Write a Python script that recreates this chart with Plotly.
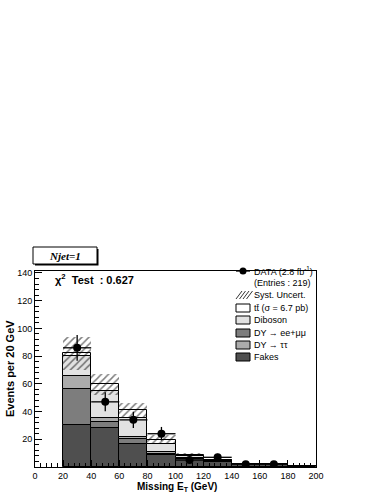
import numpy as np
import plotly.graph_objects as go

# ---------------- data ----------------
bin_centers = [30, 50, 70, 90, 110, 130, 150, 170, 190]
fakes   = [30.0, 28.0, 16.5, 8.5, 5.5, 3.5, 2.0, 2.0, 0.8]
dy_ee   = [26.0, 4.3, 3.7, 1.2, 0.8, 0.4, 0.1, 0.1, 0.05]
dy_tt   = [9.5, 3.4, 1.5, 1.1, 0.5, 0.3, 0.1, 0.1, 0.05]
diboson = [14.5, 19.0, 13.7, 6.0, 1.2, 0.5, 0.2, 0.2, 0.1]
ttbar   = [2.0, 5.0, 5.6, 3.0, 1.0, 0.3, 0.1, 0.1, 0.0]
syst    = [12.0, 7.5, 5.5, 3.5, 1.4, 0.8, 0.4, 0.4, 0.2]

data_x = [30, 50, 70, 90, 110, 130, 150, 170]
data_y = [86, 47, 34, 24, 5, 7, 2, 2]

x_ticks = [0, 20, 40, 60, 80, 100, 120, 140, 160, 180, 200]
y_ticks = [20, 40, 60, 80, 100, 120, 140]

# ---------------- layout helpers ----------------
W, H = 380, 492
PX0, PX1, PYT, PYB = 35, 316, 271, 467


def px(x):
    return (x - PX0) / (PX1 - PX0)


def py(y):
    return (PYB - y) / (PYB - PYT)


BW = 20
components = [
    ("Fakes", fakes, "#4f4f4f"),
    ("DY -> ee+mumu", dy_ee, "#7d7d7d"),
    ("DY -> tautau", dy_tt, "#ababab"),
    ("Diboson", diboson, "#e2e2e2"),
    ("ttbar", ttbar, "#ffffff"),
]

fig = go.Figure()
base = np.zeros(len(bin_centers))
for name, vals, col in components:
    v = np.array(vals, dtype=float)
    fig.add_trace(go.Bar(
        x=bin_centers, y=v, base=base.copy(), width=BW, name=name,
        marker=dict(color=col, line=dict(color="black", width=1)),
        showlegend=False, hoverinfo="skip"))
    base = base + v

total = base
err = np.array(syst)
fig.add_trace(go.Bar(
    x=bin_centers, y=2 * err, base=total - err, width=BW,
    marker=dict(color="rgba(0,0,0,0)", line=dict(width=0),
                pattern=dict(shape="/", fgcolor="black", bgcolor="rgba(0,0,0,0)",
                             size=5, solidity=0.3)),
    showlegend=False, hoverinfo="skip"))

fig.add_trace(go.Scatter(
    x=data_x, y=data_y, mode="markers",
    marker=dict(color="black", size=8, symbol="circle"),
    error_y=dict(type="data", array=list(np.sqrt(data_y)), color="black",
                 thickness=1.3, width=0),
    error_x=dict(type="constant", value=10, color="black", thickness=1.3, width=0),
    showlegend=False, hoverinfo="skip"))

fig.update_layout(
    width=W, height=H,
    margin=dict(l=PX0, r=W - PX1, t=PYT, b=H - PYB),
    paper_bgcolor="white", plot_bgcolor="white",
    barmode="overlay", bargap=0,
    font=dict(family="Liberation Sans", color="black"),
    showlegend=False,
)
fig.update_xaxes(
    range=[0, 200], tickvals=x_ticks, ticktext=[str(t) for t in x_ticks],
    ticks="inside", ticklen=7, tickwidth=1, tickcolor="black",
    minor=dict(ticks="inside", ticklen=4, dtick=4, tick0=0, tickcolor="black"),
    showline=True, linecolor="black", linewidth=1, mirror=True,
    showgrid=False, zeroline=False,
    tickfont=dict(family="Liberation Sans", size=9, color="black"),
)
fig.update_yaxes(
    range=[0, 141.4], tickvals=y_ticks, ticktext=[str(t) for t in y_ticks],
    ticks="inside", ticklen=7, tickwidth=1, tickcolor="black",
    minor=dict(ticks="inside", ticklen=4, dtick=4, tick0=0, tickcolor="black"),
    showline=True, linecolor="black", linewidth=1, mirror=True,
    showgrid=False, zeroline=False,
    tickfont=dict(family="Liberation Sans", size=9, color="black"),
)

ann = []
shapes = []
bold = "Liberation Sans"

# axis titles
ann.append(dict(x=px(177), y=py(479), xref="paper", yref="paper",
                text="<b>Missing E<sub>T</sub> (GeV)</b>", showarrow=False,
                font=dict(family=bold, size=10, color="black"),
                xanchor="center", yanchor="top"))
ann.append(dict(x=px(10), y=py(369), xref="paper", yref="paper",
                text="<b>Events per 20 GeV</b>", showarrow=False, textangle=-90,
                font=dict(family=bold, size=11, color="black"),
                xanchor="center", yanchor="middle"))

# chi2 text
ann.append(dict(x=px(53), y=py(279), xref="paper", yref="paper",
                text="<b>χ<sup>2</sup>  Test  : 0.627</b>", showarrow=False,
                font=dict(family=bold, size=11, color="black"),
                xanchor="left", yanchor="middle"))

# Njet box
shapes.append(dict(type="rect", xref="paper", yref="paper",
                   x0=px(35), x1=px(98.5), y0=py(265.5), y1=py(249),
                   fillcolor="black", line=dict(width=0)))
shapes.append(dict(type="rect", xref="paper", yref="paper",
                   x0=px(33), x1=px(97), y0=py(264), y1=py(247),
                   fillcolor="white", line=dict(color="black", width=1)))
ann.append(dict(x=px(65), y=py(255.5), xref="paper", yref="paper",
                text="<b><i>Njet=1</i></b>", showarrow=False,
                font=dict(family="Liberation Serif", size=11, color="black"),
                xanchor="center", yanchor="middle"))

# legend
sx0, sx1, tx = 236, 250, 252
rows = [271, 283, 295, 308, 320, 333, 345, 357]
leg_font = dict(family="Liberation Sans", size=9, color="black")
labels = ["DATA (2.8 fb<sup>-1</sup>)", "(Entries : 219)", "Syst. Uncert.",
          "tt̄ (σ = 6.7 pb)", "Diboson", "DY → ee+μμ", "DY → ττ", "Fakes"]
for r, lab in zip(rows, labels):
    ann.append(dict(x=px(tx), y=py(r), xref="paper", yref="paper", text=lab,
                    showarrow=False, font=leg_font, xanchor="left", yanchor="middle"))
# data symbol
shapes.append(dict(type="line", xref="paper", yref="paper",
                   x0=px(sx0), x1=px(sx1), y0=py(rows[0]), y1=py(rows[0]),
                   line=dict(color="black", width=1.3)))
rr = 3.5
shapes.append(dict(type="circle", xref="paper", yref="paper",
                   x0=px(243 - rr), x1=px(243 + rr), y0=py(rows[0] + rr), y1=py(rows[0] - rr),
                   fillcolor="black", line=dict(color="black", width=0)))
# hatch symbol
yc = rows[2]
path = ""
for k in range(4):
    xa = sx0 + k * 3.5
    path += f"M {px(xa)} {py(yc + 4)} L {px(xa + 6)} {py(yc - 4)} "
shapes.append(dict(type="path", xref="paper", yref="paper", path=path,
                   line=dict(color="black", width=0.8)))
# boxes
box_cols = ["#ffffff", "#e2e2e2", "#7d7d7d", "#ababab", "#4f4f4f"]
for r, c in zip(rows[3:], box_cols):
    shapes.append(dict(type="rect", xref="paper", yref="paper",
                       x0=px(sx0), x1=px(sx1), y0=py(r + 4), y1=py(r - 4),
                       fillcolor=c, line=dict(color="black", width=1)))

fig.update_layout(annotations=ann, shapes=shapes)
fig.write_html("out.html", config={"displayModeBar": False},
               post_script="document.body.style.margin='0px';document.body.style.padding='0px';")
